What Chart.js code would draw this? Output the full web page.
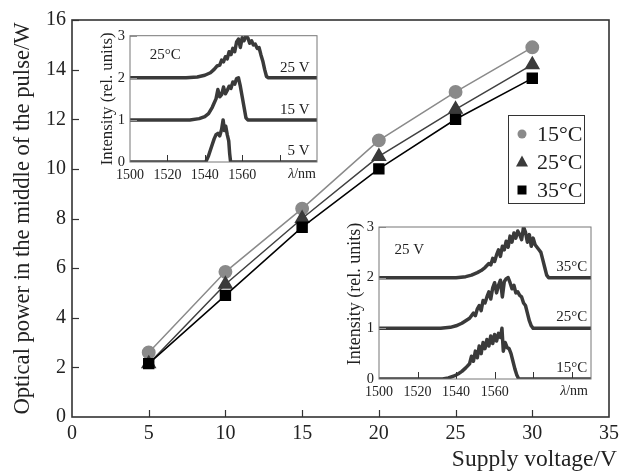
<!DOCTYPE html>
<html><head><meta charset="utf-8">
<script src="https://cdn.jsdelivr.net/npm/chart.js@4/dist/chart.umd.min.js"></script>
<style>
html,body{margin:0;padding:0;background:#fff;}
#wrap{position:relative;width:624px;height:471px;overflow:hidden;}
canvas{position:absolute;}
</style></head><body>
<div id="wrap">
<canvas id="main" width="624" height="471" style="left:0;top:0;"></canvas>
<canvas id="in1" width="228" height="168" style="left:96px;top:22px;"></canvas>
<canvas id="in2" width="266" height="196" style="left:336px;top:212px;"></canvas>
</div>
<script>
const FONT = "'Liberation Serif', 'Times New Roman', serif";
Chart.defaults.font.family = FONT;
Chart.defaults.color = '#222';

// ---- main chart data ----
const voltage = [5, 10, 15, 20, 25, 30];
const power15C = [2.6, 5.85, 8.4, 11.15, 13.1, 14.9];
const power25C = [2.15, 5.35, 8.0, 10.5, 12.4, 14.2];
const power35C = [2.15, 4.9, 7.65, 10.0, 12.0, 13.65];
const seriesNames = ['15°C', '25°C', '35°C'];
const mainXTicks = [0, 5, 10, 15, 20, 25, 30, 35];
const mainYTicks = [0, 2, 4, 6, 8, 10, 12, 14, 16];
const mainXTitle = 'Supply voltage/V';
const mainYTitle = 'Optical power in the middle of the pulse/W';

// ---- inset 1 (25°C, various voltages) ----
const in1Wl25V  = [1500, 1530, 1536, 1540, 1543, 1545, 1546.5, 1548, 1549, 1550, 1551, 1552, 1553, 1554, 1555, 1556, 1557, 1558, 1559, 1560, 1561, 1562, 1563, 1564, 1565, 1566, 1567, 1568, 1569, 1570, 1571, 1572, 1573, 1574, 1600];
const in1Int25V = [2, 2, 2.02, 2.06, 2.12, 2.2, 2.28, 2.3, 2.42, 2.38, 2.5, 2.45, 2.62, 2.55, 2.7, 2.62, 2.85, 2.92, 2.72, 2.95, 2.88, 3.0, 2.95, 2.82, 2.88, 2.78, 2.8, 2.7, 2.72, 2.55, 2.4, 2.2, 2.03, 2, 2];
const in1Wl15V  = [1500, 1532, 1537, 1540, 1542, 1544, 1545, 1546, 1547, 1548, 1549, 1550, 1551, 1552, 1553, 1554, 1555, 1556, 1557, 1558, 1559, 1560, 1561, 1562, 1563, 1600];
const in1Int15V = [1, 1, 1.03, 1.08, 1.15, 1.3, 1.4, 1.5, 1.72, 1.55, 1.6, 1.78, 1.62, 1.7, 1.8, 1.75, 1.9, 1.85, 1.98, 2.0, 1.8, 1.55, 1.3, 1.05, 1, 1];
const in1Wl5V   = [1500, 1540.5, 1542, 1543.5, 1545, 1546, 1547, 1548, 1549, 1549.8, 1550.5, 1551.2, 1552, 1552.8, 1553.3, 1553.8, 1600];
const in1Int5V  = [0, 0, 0.15, 0.35, 0.55, 0.65, 0.68, 0.62, 0.78, 1.0, 0.75, 0.85, 0.65, 0.5, 0.2, 0, 0];
const in1YTicks = [0, 1, 2, 3];

// ---- inset 2 (25 V, various temperatures) ----
const in2Wl35C  = [1500, 1540, 1545, 1548, 1551, 1553, 1555, 1557, 1558, 1559, 1560, 1561, 1562, 1563, 1564, 1565, 1566, 1567, 1568, 1569, 1570, 1571, 1572, 1573, 1574, 1575, 1576, 1577, 1578, 1579, 1580, 1581, 1582, 1583, 1584, 1585, 1586, 1587, 1588, 1610];
const in2Int35C = [2, 2, 2.02, 2.05, 2.1, 2.14, 2.2, 2.28, 2.25, 2.38, 2.32, 2.45, 2.55, 2.42, 2.62, 2.55, 2.72, 2.6, 2.82, 2.7, 2.88, 2.78, 2.92, 2.85, 2.75, 3.0, 2.9, 2.7, 2.85, 2.62, 2.78, 2.65, 2.6, 2.55, 2.5, 2.35, 2.2, 2.05, 2, 2];
const in2Wl25C  = [1500, 1532, 1537, 1540, 1543, 1545, 1547, 1549, 1550, 1551, 1552, 1553, 1554, 1555, 1556, 1557, 1558, 1559, 1560, 1561, 1562, 1563, 1564, 1565, 1566, 1567, 1568, 1569, 1570, 1571, 1572, 1573, 1574, 1575, 1576, 1577, 1578, 1579, 1580, 1581, 1610];
const in2Int25C = [1, 1, 1.02, 1.05, 1.1, 1.15, 1.2, 1.3, 1.25, 1.38, 1.45, 1.35, 1.55, 1.5, 1.62, 1.72, 1.58, 1.8, 1.9, 1.7, 1.85, 1.95, 1.62, 1.92, 1.98, 2.0, 1.9, 1.78, 1.85, 1.7, 1.72, 1.65, 1.62, 1.5, 1.45, 1.3, 1.15, 1.05, 1.0, 1, 1];
const in2Wl15C  = [1500, 1533, 1536, 1539, 1541, 1543, 1545, 1547, 1548, 1549, 1550, 1551, 1552, 1553, 1554, 1555, 1556, 1557, 1558, 1559, 1560, 1561, 1562, 1563, 1563.8, 1564.5, 1565.5, 1566.5, 1567.5, 1568.5, 1569.5, 1570.5, 1571.5, 1572.5, 1610];
const in2Int15C = [0, 0, 0.02, 0.06, 0.1, 0.15, 0.22, 0.3, 0.45, 0.35, 0.55, 0.42, 0.65, 0.5, 0.72, 0.6, 0.78, 0.65, 0.85, 0.7, 0.88, 0.75, 0.9, 0.82, 1.0, 0.55, 0.72, 0.62, 0.6, 0.5, 0.35, 0.2, 0.08, 0, 0];
const insetYTitle = 'Intensity (rel. units)';

function pts(xs, ys) { return xs.map((x, i) => ({ x: x, y: ys[i] })); }

// frame + inward tick marks
const frameTicks = {
  id: 'frameTicks',
  afterDatasetsDraw(chart, args, o) {
    const { ctx, chartArea: a, scales } = chart;
    const sx = scales.x, sy = scales.y;
    ctx.save();
    ctx.lineWidth = o.tickWidth;
    ctx.strokeStyle = o.xTickColor;
    sx.ticks.forEach(t => {
      if (t.value <= sx.min || t.value >= sx.max) return;
      const px = Math.round(sx.getPixelForValue(t.value)) + 0.5;
      ctx.beginPath(); ctx.moveTo(px, a.bottom); ctx.lineTo(px, a.bottom - o.tickLen); ctx.stroke();
    });
    ctx.strokeStyle = o.yTickColor;
    sy.ticks.forEach(t => {
      if (t.value <= sy.min || t.value > sy.max) return;
      const py = Math.round(sy.getPixelForValue(t.value)) + 0.5;
      ctx.beginPath(); ctx.moveTo(a.left, py); ctx.lineTo(a.left + o.tickLen, py); ctx.stroke();
    });
    ctx.strokeStyle = o.frameColor;
    ctx.lineWidth = o.frameWidth;
    ctx.strokeRect(a.left, a.top, a.right - a.left, a.bottom - a.top);
    ctx.restore();
  }
};

// text notes inside insets, rotated y title, λ/nm unit label
const notes = {
  id: 'notes',
  afterDraw(chart, args, o) {
    const { ctx, chartArea: a, scales } = chart;
    ctx.save();
    ctx.fillStyle = '#222';
    ctx.font = o.size + 'px ' + FONT;
    ctx.textBaseline = 'middle';
    (o.items || []).forEach(it => {
      ctx.textAlign = it.align;
      ctx.fillText(it.text, scales.x.getPixelForValue(it.x), scales.y.getPixelForValue(it.y));
    });
    // rotated y title
    if (o.yTitle) {
      ctx.save();
      ctx.translate(o.yTitle.x, (a.top + a.bottom) / 2 + o.yTitle.dy);
      ctx.rotate(-Math.PI / 2);
      ctx.textAlign = 'center';
      ctx.font = o.yTitle.size + 'px ' + FONT;
      ctx.fillText(o.yTitle.text, 0, 0);
      ctx.restore();
    }
    // unit label on the x tick row
    const y = a.bottom + scales.x.options.ticks.padding;
    ctx.textBaseline = 'top';
    ctx.textAlign = 'left';
    ctx.font = o.tick + 'px ' + FONT;
    const rest = '/nm';
    const wRest = ctx.measureText(rest).width;
    ctx.font = 'italic ' + o.tick + 'px ' + FONT;
    const wL = ctx.measureText('λ').width;
    const x0 = a.right - o.unitInset - wRest - wL;
    ctx.fillText('λ', x0, y);
    ctx.font = o.tick + 'px ' + FONT;
    ctx.fillText(rest, x0 + wL, y);
    ctx.restore();
  }
};

// legend box and x title for main chart
const boxLegend = {
  id: 'boxLegend',
  afterDraw(chart, args, o) {
    const ctx = chart.ctx;
    ctx.save();
    ctx.strokeStyle = '#333';
    ctx.lineWidth = 1;
    ctx.strokeRect(o.x + 0.5, o.y + 0.5, o.w, o.h);
    ctx.font = o.size + 'px ' + FONT;
    ctx.textBaseline = 'middle';
    ctx.textAlign = 'left';
    chart.data.datasets.forEach((ds, i) => {
      const cy = o.y + o.firstRow + i * o.rowGap;
      const cx = o.x + o.markerX;
      ctx.fillStyle = ds.pointBackgroundColor;
      ctx.beginPath();
      if (ds.pointStyle === 'circle') {
        ctx.arc(cx, cy, 4.5, 0, Math.PI * 2);
      } else if (ds.pointStyle === 'triangle') {
        ctx.moveTo(cx, cy - 6.5); ctx.lineTo(cx + 6, cy + 4.5); ctx.lineTo(cx - 6, cy + 4.5); ctx.closePath();
      } else {
        ctx.rect(cx - 4.5, cy - 4.5, 9, 9);
      }
      ctx.fill();
      ctx.fillStyle = '#222';
      ctx.fillText(ds.label, o.x + o.textX, cy + 1);
    });
    // x axis title, right-aligned under the axis end
    ctx.font = o.xTitleSize + 'px ' + FONT;
    ctx.textAlign = 'right';
    ctx.fillText(mainXTitle, chart.chartArea.right + o.xTitleDx, o.xTitleY);
    ctx.restore();
  }
};

// ---- main chart ----
new Chart(document.getElementById('main'), {
  type: 'line',
  data: {
    datasets: [
      { label: seriesNames[0], data: pts(voltage, power15C), borderColor: '#8a8a8a', pointBackgroundColor: '#8a8a8a', pointBorderColor: '#8a8a8a', pointStyle: 'circle', pointRadius: 6.2, borderWidth: 1.5, order: 2 },
      { label: seriesNames[1], data: pts(voltage, power25C), borderColor: '#404040', pointBackgroundColor: '#3a3a3a', pointBorderColor: '#3a3a3a', pointStyle: 'triangle', pointRadius: 7.5, borderWidth: 1.5, order: 1 },
      { label: seriesNames[2], data: pts(voltage, power35C), borderColor: '#000', pointBackgroundColor: '#000', pointBorderColor: '#000', pointStyle: 'rect', pointRadius: 7, borderWidth: 1.5, order: 0 }
    ]
  },
  options: {
    responsive: false, animation: false,
    layout: { padding: { left: 0, top: 20, right: 12, bottom: 0 } },
    plugins: {
      legend: { display: false }, tooltip: { enabled: false },
      frameTicks: { tickLen: 7, tickWidth: 1.2, xTickColor: '#333', yTickColor: '#333', frameColor: '#333', frameWidth: 1.6 },
      boxLegend: { x: 508, y: 115, w: 76, h: 88, size: 22, markerX: 14, textX: 29, firstRow: 19, rowGap: 28,
                   xTitleSize: 23.5, xTitleDx: 8, xTitleY: 460 }
    },
    scales: {
      x: {
        type: 'linear', min: 0, max: 35,
        afterBuildTicks: s => { s.ticks = mainXTicks.map(v => ({ value: v })); },
        afterFit: s => { s.height = 54; },
        grid: { display: false, drawTicks: false },
        border: { display: false },
        ticks: { padding: 5, font: { size: 20 }, color: '#222' }
      },
      y: {
        type: 'linear', min: 0, max: 16,
        afterBuildTicks: s => { s.ticks = mainYTicks.map(v => ({ value: v })); },
        afterFit: s => { s.width = 72; },
        grid: { display: false, drawTicks: false },
        border: { display: false },
        ticks: { padding: 6, font: { size: 20 }, color: '#222' },
        title: { display: true, text: mainYTitle, font: { size: 22.6, lineHeight: 1.0 }, padding: { top: 12, bottom: 0 }, color: '#222' }
      }
    }
  },
  plugins: [frameTicks, boxLegend]
});

function insetOptions(xMax, yW, xH, pad, notesCfg) {
  return {
    responsive: false, animation: false,
    layout: { padding: pad },
    elements: { point: { radius: 0 }, line: { tension: 0 } },
    plugins: {
      legend: { display: false }, tooltip: { enabled: false },
      frameTicks: { tickLen: 7, tickWidth: 1, xTickColor: '#333', yTickColor: '#999', frameColor: '#777', frameWidth: 1 },
      notes: notesCfg
    },
    scales: {
      x: {
        type: 'linear', min: 1500, max: xMax,
        afterBuildTicks: s => {
          const t = [];
          for (let v = 1500; v <= xMax; v += 20) t.push({ value: v });
          s.ticks = t;
        },
        afterFit: s => { s.height = xH; },
        grid: { display: false, drawTicks: false },
        border: { display: false },
        ticks: { padding: 5, font: { size: 14 }, color: '#222', maxRotation: 0, autoSkip: false,
          callback: v => (v <= 1560 ? String(v) : '') }
      },
      y: {
        type: 'linear', min: 0, max: 3,
        afterBuildTicks: s => { s.ticks = in1YTicks.map(v => ({ value: v })); },
        afterFit: s => { s.width = yW; },
        grid: { display: false, drawTicks: false },
        border: { display: false },
        ticks: { padding: 5, font: { size: 14.5 }, color: '#222' }
      }
    }
  };
}

const specStyle = { borderColor: '#3a3a3a', borderWidth: 3.5, pointRadius: 0, fill: false, borderJoinStyle: 'round' };

new Chart(document.getElementById('in1'), {
  type: 'line',
  data: {
    datasets: [
      Object.assign({ label: '25 V', data: pts(in1Wl25V, in1Int25V) }, specStyle),
      Object.assign({ label: '15 V', data: pts(in1Wl15V, in1Int15V) }, specStyle),
      Object.assign({ label: '5 V', data: pts(in1Wl5V, in1Int5V) }, specStyle)
    ]
  },
  options: insetOptions(1600, 34, 28, { left: 0, top: 11, right: 7, bottom: 0 }, {
    size: 15, tick: 14, unitInset: 1,
    yTitle: { text: insetYTitle, x: 12, dy: 0, size: 16.8 },
    items: [
      { text: '25°C', x: 1510.5, y: 2.54, align: 'left' },
      { text: '25 V', x: 1596, y: 2.22, align: 'right' },
      { text: '15 V', x: 1596, y: 1.24, align: 'right' },
      { text: '5 V', x: 1596, y: 0.25, align: 'right' }
    ]
  }),
  plugins: [frameTicks, notes]
});

new Chart(document.getElementById('in2'), {
  type: 'line',
  data: {
    datasets: [
      Object.assign({ label: '35°C', data: pts(in2Wl35C, in2Int35C) }, specStyle),
      Object.assign({ label: '25°C', data: pts(in2Wl25C, in2Int25C) }, specStyle),
      Object.assign({ label: '15°C', data: pts(in2Wl15C, in2Int15C) }, specStyle)
    ]
  },
  options: insetOptions(1610, 43, 29, { left: 0, top: 15, right: 11, bottom: 0 }, {
    size: 15, tick: 14, unitInset: 3,
    yTitle: { text: insetYTitle, x: 19, dy: -9, size: 18 },
    items: [
      { text: '25 V', x: 1508, y: 2.54, align: 'left' },
      { text: '35°C', x: 1608, y: 2.21, align: 'right' },
      { text: '25°C', x: 1608, y: 1.22, align: 'right' },
      { text: '15°C', x: 1608, y: 0.22, align: 'right' }
    ]
  }),
  plugins: [frameTicks, notes]
});
</script>
</body></html>
